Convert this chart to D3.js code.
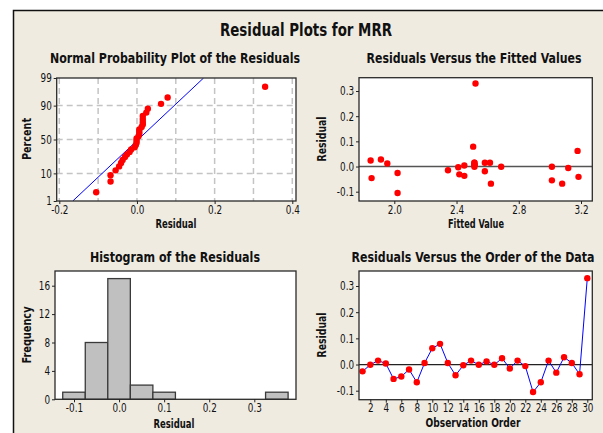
<!DOCTYPE html>
<html>
<head>
<meta charset="utf-8">
<script src="https://cdn.jsdelivr.net/npm/d3@7"></script>
<style>
  body { margin: 0; background: #fff; }
  svg { display: block; }
  .tick text { fill: #111; }
  .tick line { stroke: #222; }
  .ttl { font-family: "Liberation Sans Narrow", "Arial Narrow", "DejaVu Sans Condensed", sans-serif; font-weight: bold; fill: #111; }
</style>
</head>
<body>
<svg id="chart" width="603" height="433"></svg>
<script>
// residuals in observation order
var residuals = [-0.026, -0.001, 0.015, 0.004, -0.055, -0.046, -0.019, -0.068, 0.006, 0.062,
                 0.079, 0.006, -0.041, -0.003, 0.015, -0.001, 0.012, -0.001, 0.024, -0.015,
                 0.015, -0.006, -0.105, -0.068, 0.015, -0.031, 0.028, 0.006, -0.037, 0.330];
// fitted values in the same order
var fitted = [2.021, 2.687, 2.582, 2.450, 3.013, 1.854, 2.582, 2.621, 2.515, 3.178,
              2.507, 2.515, 3.184, 2.411, 2.615, 3.013, 1.955, 2.515, 1.848, 2.345,
              2.515, 3.118, 2.021, 3.079, 2.515, 2.418, 1.914, 2.515, 2.450, 2.522];
var binEdges = [-0.125, -0.075, -0.025, 0.025, 0.075, 0.125, 0.175, 0.225, 0.275, 0.325, 0.375];
var pctTicks = [1, 10, 50, 90, 99];
var pctGrid = [10, 50, 90];
var nppXTicks = [-0.2, 0.0, 0.2, 0.4];
var nppXGrid = [-0.2, -0.1, 0.0, 0.1, 0.2, 0.3, 0.4];
var fitXTicks = [2.0, 2.4, 2.8, 3.2];
var residTicks = [-0.1, 0.0, 0.1, 0.2, 0.3];
var histXTicks = [-0.1, 0.0, 0.1, 0.2, 0.3];
var freqTicks = [0, 4, 8, 12, 16];
var orderTicks = d3.range(2, 31, 2);

var FONT = '"Liberation Sans Narrow", "Arial Narrow", "DejaVu Sans Condensed", sans-serif';
var DOT = 3.2;

// inverse normal cdf (Acklam)
function normInv(p) {
    var a = [-3.969683028665376e+01, 2.209460984245205e+02, -2.759285104469687e+02, 1.383577518672690e+02, -3.066479806614716e+01, 2.506628277459239e+00];
    var b = [-5.447609879822406e+01, 1.615858368580409e+02, -1.556989798598866e+02, 6.680131188771972e+01, -1.328068155288572e+01];
    var c = [-7.784894002430293e-03, -3.223964580411365e-01, -2.400758277161838e+00, -2.549732539343734e+00, 4.374664141464968e+00, 2.938163982698783e+00];
    var d = [7.784695709041462e-03, 3.224671290700398e-01, 2.445134137142996e+00, 3.754408661907416e+00];
    var q, r;
    if (p < 0.02425) {
        q = Math.sqrt(-2 * Math.log(p));
        return (((((c[0] * q + c[1]) * q + c[2]) * q + c[3]) * q + c[4]) * q + c[5]) / ((((d[0] * q + d[1]) * q + d[2]) * q + d[3]) * q + 1);
    }
    if (p > 1 - 0.02425) {
        return -normInv(1 - p);
    }
    q = p - 0.5;
    r = q * q;
    return (((((a[0] * r + a[1]) * r + a[2]) * r + a[3]) * r + a[4]) * r + a[5]) * q / (((((b[0] * r + b[1]) * r + b[2]) * r + b[3]) * r + b[4]) * r + 1);
}

function fmt1(v) {
    return Math.abs(v) < 1e-9 ? "0.0" : v.toFixed(1);
}

var svg = d3.select("#chart");

// frame
svg.append("rect").attr("x", 13).attr("y", 10).attr("width", 600).attr("height", 430).attr("fill", "#efebe1");
svg.append("path").attr("d", "M13.5,433V10.5H603").attr("fill", "none").attr("stroke", "#111").attr("stroke-width", 1.5);

function text(x, y, str, size, len, rotate) {
    var t = svg.append("text")
        .attr("class", "ttl")
        .attr("text-anchor", "middle")
        .attr("font-size", size)
        .attr("textLength", len)
        .attr("lengthAdjust", "spacingAndGlyphs")
        .text(str);
    if (rotate) {
        t.attr("transform", "translate(" + x + "," + y + ") rotate(-90)");
    } else {
        t.attr("x", x).attr("y", y);
    }
    return t;
}

text(306, 36, "Residual Plots for MRR", 17, 172);

// plot area: white rect + clip, returns group
function plotArea(id, x0, y0, x1, y1) {
    svg.append("clipPath").attr("id", id).append("rect")
        .attr("x", x0).attr("y", y0).attr("width", x1 - x0).attr("height", y1 - y0);
    svg.append("rect").attr("x", x0).attr("y", y0).attr("width", x1 - x0).attr("height", y1 - y0)
        .attr("fill", "#fff");
    return svg.append("g").attr("clip-path", "url(#" + id + ")");
}

function border(x0, y0, x1, y1) {
    svg.append("rect").attr("x", x0).attr("y", y0).attr("width", x1 - x0).attr("height", y1 - y0)
        .attr("fill", "none").attr("stroke", "#2a2a2a").attr("stroke-width", 1.3);
}

// tick labels in the picture are squeezed sideways, so scale them
function drawAxis(axis, tx, ty) {
    var g = svg.append("g").attr("transform", "translate(" + tx + "," + ty + ")").call(axis);
    g.select(".domain").remove();
    g.selectAll(".tick text")
        .attr("font-family", FONT).attr("font-size", 12)
        .attr("transform", "scale(0.82,1)");
    return g;
}

// ---------- Normal probability plot ----------
(function () {
    var x0 = 56.7, x1 = 296, y0 = 78, y1 = 201;
    var x = d3.scaleLinear().domain([-0.2, 0.4]).range([59.3, 292.3]);
    var y = d3.scaleLinear().domain([normInv(0.01), normInv(0.99)]).range([y1, y0]);
    var g = plotArea("clipNpp", x0, y0, x1, y1);

    g.selectAll(".gx").data(nppXGrid).enter().append("line")
        .attr("x1", function (d) { return x(d); }).attr("x2", function (d) { return x(d); })
        .attr("y1", y0).attr("y2", y1)
        .attr("stroke", "#c4c4c4").attr("stroke-width", 1.5).attr("stroke-dasharray", "6,4");
    g.selectAll(".gy").data(pctGrid).enter().append("line")
        .attr("x1", x0).attr("x2", x1)
        .attr("y1", function (d) { return y(normInv(d / 100)); }).attr("y2", function (d) { return y(normInv(d / 100)); })
        .attr("stroke", "#c4c4c4").attr("stroke-width", 1.5).attr("stroke-dasharray", "6,4");

    var mean = d3.mean(residuals), sd = d3.deviation(residuals);
    var zLo = normInv(0.01), zHi = normInv(0.99);
    g.append("line")
        .attr("x1", x(mean + sd * zLo)).attr("y1", y(zLo))
        .attr("x2", x(mean + sd * zHi)).attr("y2", y(zHi))
        .attr("stroke", "#0000ff").attr("stroke-width", 1);

    var sorted = residuals.slice().sort(d3.ascending);
    var n = sorted.length;
    svg.append("g").selectAll("circle").data(sorted).enter().append("circle")
        .attr("cx", function (d) { return x(d); })
        .attr("cy", function (d, i) { return y(normInv((i + 1 - 0.3) / (n + 0.4))); })
        .attr("r", DOT).attr("fill", "#ff0000");

    border(x0, y0, x1, y1);
    drawAxis(d3.axisLeft(y).tickValues(pctTicks.map(function (p) { return normInv(p / 100); }))
        .tickFormat(function (d, i) { return pctTicks[i]; }).tickSize(3).tickPadding(3), x0, 0);
    drawAxis(d3.axisBottom(x).tickValues(nppXTicks).tickFormat(fmt1).tickSize(3).tickPadding(1), 0, y1);

    text(175, 63, "Normal Probability Plot of the Residuals", 13.5, 250);
    text(176, 228, "Residual", 11.5, 41);
    text(31, 139, "Percent", 11.5, 42, true);
})();

// ---------- Residuals vs fitted ----------
(function () {
    var x0 = 359, x1 = 592.3, y0 = 77.7, y1 = 201;
    var x = d3.scaleLinear().domain([2.0, 3.2]).range([394.3, 581]);
    var y = d3.scaleLinear().domain([-0.1, 0.3]).range([191.7, 91]);
    var g = plotArea("clipFit", x0, y0, x1, y1);
    g.append("line").attr("x1", x0).attr("x2", x1).attr("y1", y(0)).attr("y2", y(0))
        .attr("stroke", "#555").attr("stroke-width", 1.5);
    svg.append("g").selectAll("circle").data(residuals).enter().append("circle")
        .attr("cx", function (d, i) { return x(fitted[i]); })
        .attr("cy", function (d) { return y(d); })
        .attr("r", DOT).attr("fill", "#ff0000");
    border(x0, y0, x1, y1);
    drawAxis(d3.axisLeft(y).tickValues(residTicks).tickFormat(fmt1).tickSize(3).tickPadding(3), x0, 0);
    drawAxis(d3.axisBottom(x).tickValues(fitXTicks).tickFormat(fmt1).tickSize(3).tickPadding(1), 0, y1);

    text(474, 63, "Residuals Versus the Fitted Values", 13.5, 215);
    text(476, 228, "Fitted Value", 11.5, 56);
    text(326, 139, "Residual", 11.5, 45, true);
})();

// ---------- Histogram ----------
(function () {
    var x0 = 55, x1 = 296, y0 = 271, y1 = 399.3;
    var x = d3.scaleLinear().domain([-0.1, 0.3]).range([74, 254.3]);
    var y = d3.scaleLinear().domain([0, 16]).range([y1, 285.7]);
    plotArea("clipHist", x0, y0, x1, y1);
    var bins = d3.bin().domain([binEdges[0], binEdges[binEdges.length - 1]]).thresholds(binEdges.slice(1, -1))(residuals);
    svg.append("g").selectAll("rect").data(bins).enter().append("rect")
        .attr("x", function (d) { return x(d.x0); })
        .attr("y", function (d) { return y(d.length); })
        .attr("width", function (d) { return x(d.x1) - x(d.x0); })
        .attr("height", function (d) { return y(0) - y(d.length); })
        .attr("fill", "#c0c0c0").attr("stroke", "#3a3a3a").attr("stroke-width", 1.3);
    border(x0, y0, x1, y1);
    drawAxis(d3.axisLeft(y).tickValues(freqTicks).tickSize(3).tickPadding(3), x0, 0);
    drawAxis(d3.axisBottom(x).tickValues(histXTicks).tickFormat(fmt1).tickSize(3).tickPadding(1), 0, y1);

    text(175, 262, "Histogram of the Residuals", 13.5, 170);
    text(174, 428, "Residual", 11.5, 41);
    text(31, 335, "Frequency", 11.5, 57, true);
})();

// ---------- Residuals vs order ----------
(function () {
    var x0 = 359, x1 = 592.3, y0 = 271, y1 = 399.7;
    var x = d3.scaleLinear().domain([2, 30]).range([370.3, 587.3]);
    var y = d3.scaleLinear().domain([-0.1, 0.3]).range([390.7, 286]);
    var g = plotArea("clipOrd", x0, y0, x1, y1);
    g.append("line").attr("x1", x0).attr("x2", x1).attr("y1", y(0)).attr("y2", y(0))
        .attr("stroke", "#222").attr("stroke-width", 1.3);
    var line = d3.line()
        .x(function (d, i) { return x(i + 1); })
        .y(function (d) { return y(d); });
    g.append("path").datum(residuals).attr("d", line)
        .attr("fill", "none").attr("stroke", "#0000ff").attr("stroke-width", 1);
    svg.append("g").selectAll("circle").data(residuals).enter().append("circle")
        .attr("cx", function (d, i) { return x(i + 1); })
        .attr("cy", function (d) { return y(d); })
        .attr("r", DOT).attr("fill", "#ff0000");
    border(x0, y0, x1, y1);
    drawAxis(d3.axisLeft(y).tickValues(residTicks).tickFormat(fmt1).tickSize(3).tickPadding(3), x0, 0);
    drawAxis(d3.axisBottom(x).tickValues(orderTicks).tickSize(3).tickPadding(1), 0, y1);

    text(473, 262, "Residuals Versus the Order of the Data", 13.5, 243);
    text(473, 427, "Observation Order", 11.5, 95);
    text(326, 335, "Residual", 11.5, 45, true);
})();
</script>
</body>
</html>
